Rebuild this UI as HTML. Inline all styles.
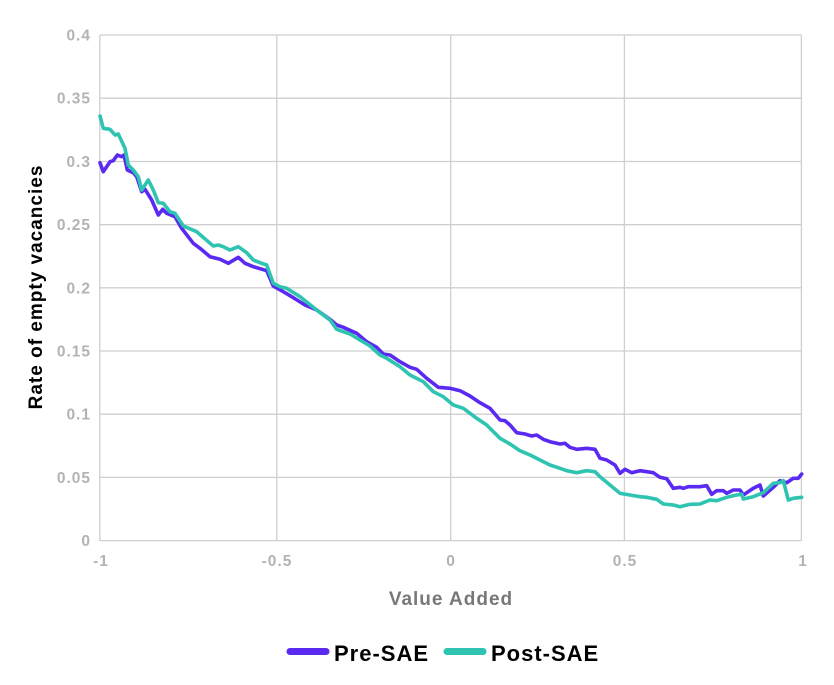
<!DOCTYPE html>
<html><head><meta charset="utf-8"><style>
html,body{margin:0;padding:0;background:#fff;}
svg{display:block;}
text{font-family:"Liberation Sans",sans-serif;font-weight:bold;}
</style></head><body>
<svg width="834" height="685" viewBox="0 0 834 685" xmlns="http://www.w3.org/2000/svg">
<g stroke="#cfcfcf" stroke-width="1.3" fill="none">
<line x1="100" y1="35" x2="801.5" y2="35"/>
<line x1="100" y1="98.2" x2="801.5" y2="98.2"/>
<line x1="100" y1="161.5" x2="801.5" y2="161.5"/>
<line x1="100" y1="224.7" x2="801.5" y2="224.7"/>
<line x1="100" y1="287.8" x2="801.5" y2="287.8"/>
<line x1="100" y1="351" x2="801.5" y2="351"/>
<line x1="100" y1="414.2" x2="801.5" y2="414.2"/>
<line x1="100" y1="477.4" x2="801.5" y2="477.4"/>
<line x1="100" y1="540.6" x2="801.5" y2="540.6"/>
<line x1="99.8" y1="35" x2="99.8" y2="541"/>
<line x1="276.8" y1="35" x2="276.8" y2="541"/>
<line x1="450.7" y1="35" x2="450.7" y2="541"/>
<line x1="624.4" y1="35" x2="624.4" y2="541"/>
<line x1="801.4" y1="35" x2="801.4" y2="541"/>
</g>
<g fill="#b3b3b3" font-size="15.5" text-anchor="end" letter-spacing="1">
<text x="91" y="40.5">0.4</text>
<text x="91" y="103.7">0.35</text>
<text x="91" y="167">0.3</text>
<text x="91" y="230.2">0.25</text>
<text x="91" y="293.3">0.2</text>
<text x="91" y="356.5">0.15</text>
<text x="91" y="419.7">0.1</text>
<text x="91" y="482.9">0.05</text>
<text x="91" y="546.1">0</text>
</g>
<g fill="#b3b3b3" font-size="15.5" text-anchor="middle" letter-spacing="1">
<text x="101" y="566">-1</text>
<text x="277" y="566">-0.5</text>
<text x="451" y="566">0</text>
<text x="625" y="566">0.5</text>
<text x="803" y="566">1</text>
</g>
<text x="451" y="605" fill="#787878" font-size="19" text-anchor="middle" letter-spacing="1">Value Added</text>
<text transform="translate(42,287) rotate(-90)" fill="#000" font-size="19" text-anchor="middle" letter-spacing="1">Rate of empty vacancies</text>
<polyline fill="none" stroke="#5a2af2" stroke-width="3.6" stroke-linejoin="round" stroke-linecap="round" points="100,162.7 103.3,171.7 110,161.7 113.3,160.7 117.3,155 121.7,156.7 124,155 127.3,170 133.3,172.7 136.7,176.7 141.7,191.7 145,189.3 151.7,200 158.3,215 162.7,209.3 166.7,213.3 175,216.7 181.7,228.3 193.3,243.3 200,248.3 210,256.7 220,259.3 228.3,263.3 238.3,257.3 245,263.3 253.3,266.7 266.7,270.7 273.3,286 283.3,291.7 291.7,296.7 305,305 316.7,310 330,319.3 336.7,325 343.3,327.3 356.7,333.3 366.7,341.7 376.7,347.3 383.3,354 390,355 400,361.7 410,367.3 416.7,369.3 426.7,378.3 438.3,387.3 450,388.3 460,390.7 470,396 480,402.7 490,408.3 500,420 505,420.7 510,425 516.7,432.7 525,434 531.7,436 536.7,435 543.3,439.3 550,441.7 560,444 565,443.3 570,447.3 576.7,449.3 586.7,448.3 595,449.3 600,458.3 606.7,460 615,465 620,473.3 625,469.3 631.7,472.7 640,470.7 646.7,471.7 653.3,472.7 660,477.3 666.7,478.7 673.3,488.3 680,487.3 683.3,488.3 688.3,486.7 700,486.7 706.7,485.7 711.7,494.3 716.7,490.7 723.3,490.7 726.7,493.3 733.3,490 740,490 743.3,495 753.3,488.3 760,485 763.3,496 773.3,487.3 780,480.7 786.7,482.7 793.3,478.3 798.3,478.3 801.7,474"/>
<polyline fill="none" stroke="#2ec4b1" stroke-width="3.6" stroke-linejoin="round" stroke-linecap="round" points="100,116 103.3,128.3 110,129.3 115,135 118.3,134 125,148.3 128.3,165 133.3,170 138.3,176.7 141.7,190 148.3,180 153.3,190 158.3,202.7 163.3,203.3 170,211.7 175,213.3 183.3,226 196.7,231.7 213.3,246 218.3,245 223.3,246.7 230,250 238.3,246.7 246.7,252.7 253.3,260 260,262.7 266.7,265 273.3,283.3 280,286.7 286.7,288.3 300,296.7 316.7,310 330,320 336.7,329.3 350,334 360,340 370,346 380,355 386.7,358.3 400,366.7 410,375 423.3,381.7 433.3,391.7 443.3,396.7 453.3,405 463.3,408.3 476.7,418.3 486.7,425 500,438.3 510,444 520,450.7 530,455 540,460 550,465 560,468.3 566.7,470.7 576.7,472.7 586.7,470.7 595,471.7 600,476.7 610,485 620,493.3 630,495 640,496.7 646.7,497.3 656.7,499.3 663.3,504 673.3,505 680,506.7 690,504.3 700,504 710,500 716.7,500.7 726.7,497.3 736.7,495 741.7,494.3 743.3,499 753.3,496.7 763.3,492.7 773.3,483.3 780,482.7 783.3,480.7 788.3,500 793.3,498.3 801.7,497.3"/>
<line x1="290" y1="651.5" x2="326" y2="651.5" stroke="#5a2af2" stroke-width="7" stroke-linecap="round"/>
<text x="334" y="661" fill="#000" font-size="22" letter-spacing="1">Pre-SAE</text>
<line x1="447" y1="651.5" x2="483" y2="651.5" stroke="#2ec4b1" stroke-width="7" stroke-linecap="round"/>
<text x="491" y="661" fill="#000" font-size="22" letter-spacing="1">Post-SAE</text>
</svg>
</body></html>
